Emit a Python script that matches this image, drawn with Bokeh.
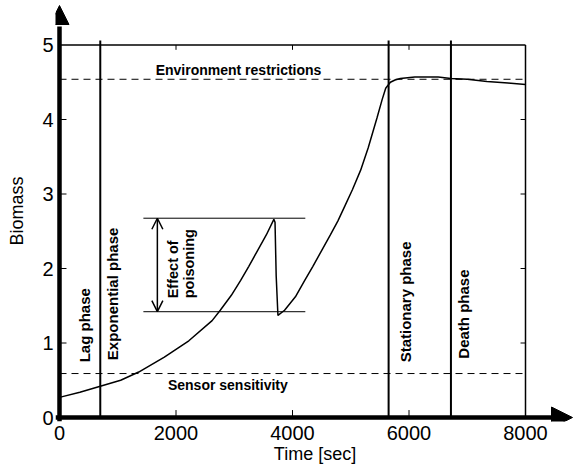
import math
from bokeh.plotting import figure
from bokeh.models import Range1d, FixedTicker, Arrow, NormalHead, OpenHead, Label
from bokeh.embed import file_html
from bokeh.resources import INLINE

# ---- data ----
time_s = [0, 350, 700, 1050, 1360, 1800, 2220, 2620, 2760, 2950, 3110, 3250, 3400, 3550,
          3680, 3700, 3720, 3750,
          3864, 4050, 4210, 4350, 4500, 4650, 4780, 4900, 5030, 5170, 5300, 5450, 5540,
          5600, 5680, 5760, 5850, 6100, 6500, 6720, 7000, 7340, 7700, 8000]
biomass = [0.27, 0.34, 0.42, 0.50, 0.61, 0.81, 1.03, 1.30, 1.44, 1.64, 1.84, 2.03, 2.24, 2.45,
           2.66, 2.62, 1.90, 1.37,
           1.44, 1.62, 1.84, 2.03, 2.24, 2.45, 2.64, 2.84, 3.06, 3.32, 3.62, 4.02, 4.27,
           4.42, 4.50, 4.53, 4.55, 4.57, 4.57, 4.55, 4.54, 4.51, 4.49, 4.47]

phase_times = [700, 5650, 6720]          # phase boundaries
env_limit = 4.54                         # environment restrictions
sensor_limit = 0.59                      # sensor sensitivity
poison_levels = [2.675, 1.42]            # before / after poisoning
poison_span = [1440, 4220]
poison_arrow_x = 1680

x_ticks = [0, 2000, 4000, 6000, 8000]
y_ticks = [0, 1, 2, 3, 4, 5]
x_max, y_max = 8000, 5

FONT = "Liberation Sans"

XPX = 0.05825   # px per second
YPX = 74.5      # px per biomass unit
x0 = -4 / XPX
y0 = -4 / YPX
p = figure(width=574, height=468, output_backend="svg", toolbar_location=None,
           x_range=Range1d(x0, x0 + 519 / XPX), y_range=Range1d(y0, y0 + 421 / YPX),
           min_border_left=55, min_border_right=0, min_border_top=0, min_border_bottom=47)
p.outline_line_color = None
p.xgrid.visible = False
p.ygrid.visible = False
p.background_fill_color = "white"

for ax, ticks in ((p.xaxis[0], x_ticks), (p.yaxis[0], y_ticks)):
    ax.ticker = FixedTicker(ticks=ticks)
    ax.axis_line_color = None
    ax.major_tick_line_color = None
    ax.minor_tick_line_color = None
    ax.major_tick_in = 0
    ax.major_tick_out = 0
    ax.major_label_text_font = FONT
    ax.major_label_text_font_size = "20px"
    ax.major_label_text_color = "black"
    ax.axis_label_text_font = FONT
    ax.axis_label_text_font_size = "18px"
    ax.axis_label_text_font_style = "normal"
    ax.axis_label_text_color = "black"

p.xaxis.axis_label = "Time [sec]"
p.yaxis.axis_label = "Biomass"
p.xaxis.major_label_standoff = 4
p.xaxis.axis_label_standoff = 1
p.yaxis.major_label_standoff = 2
p.yaxis.axis_label_standoff = 12

# thick axis lines with arrowheads
p.line(x=[x0, 8450], y=[0, 0], line_color="black", line_width=4.5)
p.line(x=[0, 0], y=[y0, 5.25], line_color="black", line_width=4.5)
p.add_layout(Arrow(x_start=8400, y_start=0, x_end=8807, y_end=0, line_alpha=0,
                   end=NormalHead(size=21, fill_color="black", line_color="black")))
p.add_layout(Arrow(x_start=0, y_start=5.2, x_end=0, y_end=5.53, line_alpha=0,
                   end=NormalHead(size=19, fill_color="black", line_color="black")))

# inward ticks along the axes and on top / right frame
inner_x = [t for t in x_ticks if 0 < t < x_max]
inner_y = [t for t in y_ticks if 0 < t < y_max]
p.segment(x0=inner_x, y0=[0] * len(inner_x), x1=inner_x, y1=[0.1] * len(inner_x),
          line_color="black", line_width=1)
p.segment(x0=[0] * len(inner_y), y0=inner_y, x1=[120] * len(inner_y), y1=inner_y,
          line_color="black", line_width=1)
p.line(x=[0, x_max], y=[y_max, y_max], line_color="black", line_width=1.5)
p.line(x=[x_max, x_max], y=[0, y_max], line_color="black", line_width=1.5)
p.segment(x0=inner_x, y0=[y_max] * len(inner_x), x1=inner_x, y1=[y_max - 0.065] * len(inner_x),
          line_color="black", line_width=1)
p.segment(x0=[x_max] * len(inner_y), y0=inner_y, x1=[x_max - 85] * len(inner_y), y1=inner_y,
          line_color="black", line_width=1)

# dashed limits
p.line(x=[0, x_max], y=[env_limit, env_limit], line_color="black", line_width=1, line_dash="7 5")
p.line(x=[0, x_max], y=[sensor_limit, sensor_limit], line_color="black", line_width=1, line_dash="7 5")

# phase boundaries
p.segment(x0=phase_times, y0=[0] * 3, x1=phase_times, y1=[5.06] * 3, line_color="black", line_width=2)

# poisoning level lines
for lv in poison_levels:
    p.line(x=poison_span, y=[lv, lv], line_color="black", line_width=1)
p.add_layout(Arrow(x_start=poison_arrow_x, y_start=poison_levels[1], x_end=poison_arrow_x,
                   y_end=poison_levels[0], line_width=1.5, line_color="black",
                   start=OpenHead(size=11, line_width=1.5, line_color="black"),
                   end=OpenHead(size=11, line_width=1.5, line_color="black")))

# biomass curve
p.line(x=time_s, y=biomass, line_color="black", line_width=1.5)

# texts
def lab(x, y, t, size, angle=0.0, align="center"):
    p.add_layout(Label(x=x, y=y, text=t, text_font=FONT, text_font_size=size,
                       text_font_style="bold", text_color="black", angle=angle,
                       text_align=align, text_baseline="middle"))

lab(3073, 4.67, "Environment restrictions", "14px")
lab(2890, 0.44, "Sensor sensitivity", "14px")
v = math.pi / 2
lab(430, 0.74, "Lag phase", "15px", v, "left")
lab(910, 0.77, "Exponential phase", "15px", v, "left")
lab(5940, 0.74, "Stationary phase", "15px", v, "left")
lab(6936, 0.79, "Death phase", "15px", v, "left")
lab(1940, 1.60, "Effect of", "14.5px", v, "left")
lab(2215, 1.60, "poisoning", "14.5px", v, "left")

open("out.html", "w").write(file_html(p, INLINE))
